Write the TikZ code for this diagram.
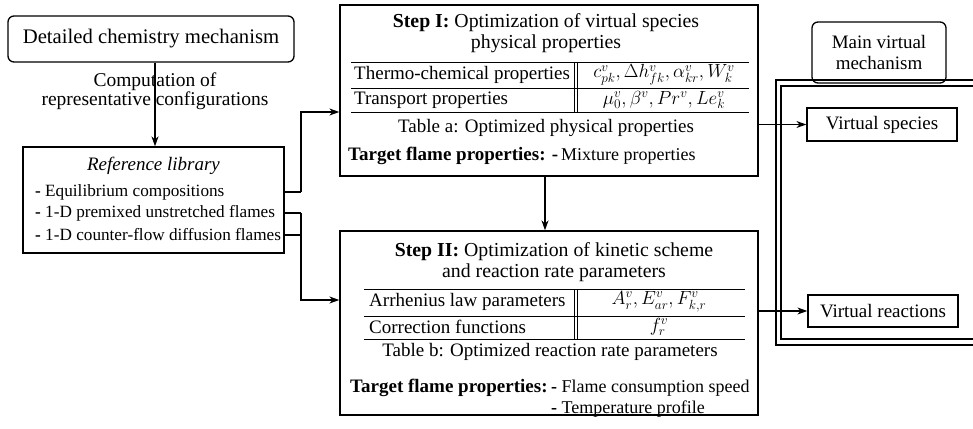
\RequirePackage{fix-cm}
\documentclass[tikz,border=0pt]{standalone}
\usepackage{fontspec}
\setmainfont{Liberation Serif}
\usetikzlibrary{arrows.meta}
\newcommand{\bigf}{\fontsize{20.7}{22}\selectfont}
\newcommand{\midf}{\fontsize{19}{21}\selectfont}
\newcommand{\titf}{\fontsize{19.8}{20.5}\selectfont}
\newcommand{\smf}{\fontsize{17.2}{19}\selectfont}
\newcommand{\tgf}{\fontsize{18}{20}\selectfont}
\begin{document}
\begin{tikzpicture}[x=1pt,y=-1pt,
  box/.style={draw, line width=1.3pt, inner sep=0pt},
  rbox/.style={box, rounded corners=6pt},
  rule/.style={line width=1pt},
  conn/.style={line width=1.3pt},
  arr/.style={conn, -{Stealth[length=10pt,width=7pt]}},
  txt/.style={inner sep=0pt, font=\midf},
  ]
\useasboundingbox (0,0) rectangle (973,428);

% left column
\node[rbox, minimum width=286, minimum height=46] (dcm) at (151,39) {};
\node[txt, font=\bigf] (dcmt) at (151,39) {Detailed chemistry mechanism};
\node[txt, font=\fontsize{19.5}{18.5}\selectfont, align=center] (comp) at (155,91) {Computation of\\representative configurations};

\node[box, minimum width=261, minimum height=106] (lib) at (153.5,200) {};
\node[txt, font=\midf\itshape] (libt) at (153.5,166) {Reference library};
\node[txt, font=\smf, anchor=west] (r1) at (35,192) {\textbf{-} Equilibrium compositions};
\node[txt, font=\smf, anchor=west] (r2) at (35,213) {\textbf{-} 1-D premixed unstretched flames};
\node[txt, font=\smf, anchor=west] (r3) at (35,235) {\textbf{-} 1-D counter-flow diffusion flames};
\coordinate (j1) at (301,192);
\coordinate (j2) at (301,213);
\coordinate (j3) at (301,235);

% Step I
\node[box, minimum width=418, minimum height=171] (s1) at (549,90.5) {};
\node[txt, font=\titf, align=center] (s1t) at (546,33) {\textbf{Step I:} Optimization of virtual species\\physical properties};
\draw[rule] (351,62) -- (749,62);
\draw[rule] (351,88) -- (749,88);
\draw[rule] (351,112) -- (749,112);
\draw[rule] (574,62) -- (574,112);
\draw[rule] (577.5,62) -- (577.5,112);
\node[txt, anchor=west] (a1) at (354,75) {Thermo-chemical properties};
\node[txt] (a2) at (664,75) {$c^v_{pk}, \Delta h^v_{fk}, \alpha^v_{kr}, W^v_k$};
\node[txt, anchor=west] (a3) at (354,100) {Transport properties};
\node[txt] (a4) at (664,100) {$\mu_0^v, \beta^v, Pr^v, Le^v_k$};
\node[txt] (acap) at (546,128) {Table a: Optimized physical properties};
\node[txt, anchor=west] (atg) at (348,156) {\textbf{Target flame properties: -}};
\node[txt, font=\tgf, anchor=west] (atg1) at (561,156) {Mixture properties};

% Step II
\node[box, minimum width=418, minimum height=184] (s2) at (549,323) {};
\node[txt, font=\titf, align=center] (s2t) at (554,262) {\textbf{Step II:} Optimization of kinetic scheme\\and reaction rate parameters};
\draw[rule] (364,289) -- (745,289);
\draw[rule] (364,316) -- (745,316);
\draw[rule] (364,339) -- (745,339);
\draw[rule] (574,289) -- (574,339);
\draw[rule] (577.5,289) -- (577.5,339);
\node[txt, anchor=west] (b1) at (369,302) {Arrhenius law parameters};
\node[txt] (b2) at (659,302) {$A^v_r, E^v_{ar}, F^v_{k,r}$};
\node[txt, anchor=west] (b3) at (369,327) {Correction functions};
\node[txt] (b4) at (659,327) {$f^v_r$};
\node[txt] (bcap) at (550,352) {Table b: Optimized reaction rate parameters};
\node[txt, anchor=west] (btg) at (350,388) {\textbf{Target flame properties:}};
\node[txt, font=\tgf, anchor=west] (btg1) at (551,388) {\textbf{-} Flame consumption speed};
\node[txt, font=\tgf, anchor=west] (btg2) at (551,409) {\textbf{-} Temperature profile};

% right column
\node[rbox, minimum width=134, minimum height=61] (mvm) at (879,52.5) {};
\node[txt, align=center] (mvmt) at (879,52.5) {Main virtual\\mechanism};
\draw[box] (980,80) -- (776,80) -- (776,345) -- (980,345);
\draw[box] (980,86) -- (781,86) -- (781,339) -- (980,339);
\node[box, minimum width=150, minimum height=33] (vs) at (882,124.5) {};
\node[txt] (vst) at (882,124.5) {Virtual species};
\node[box, minimum width=150, minimum height=32] (vr) at (883,311) {};
\node[txt] (vrt) at (883,311) {Virtual reactions};

% connectors
\draw[arr] (dcm.south -| comp) -- (lib.north -| comp);
\draw[conn] (lib.east |- j1) -- (j1);
\draw[arr] (j1) |- (s1.west |- 0,112);
\draw[conn] (lib.east |- j2) -- (j2);
\draw[conn] (lib.east |- j3) -- (j3);
\draw[arr] (j2) |- (s2.west |- 0,300);
\draw[arr] (s1.south -| 545,0) -- (s2.north -| 545,0);
\draw[arr] (s1.east |- vs.west) -- (vs.west);
\draw[arr] (s2.east |- vr.west) -- (vr.west);
\end{tikzpicture}
\end{document}
